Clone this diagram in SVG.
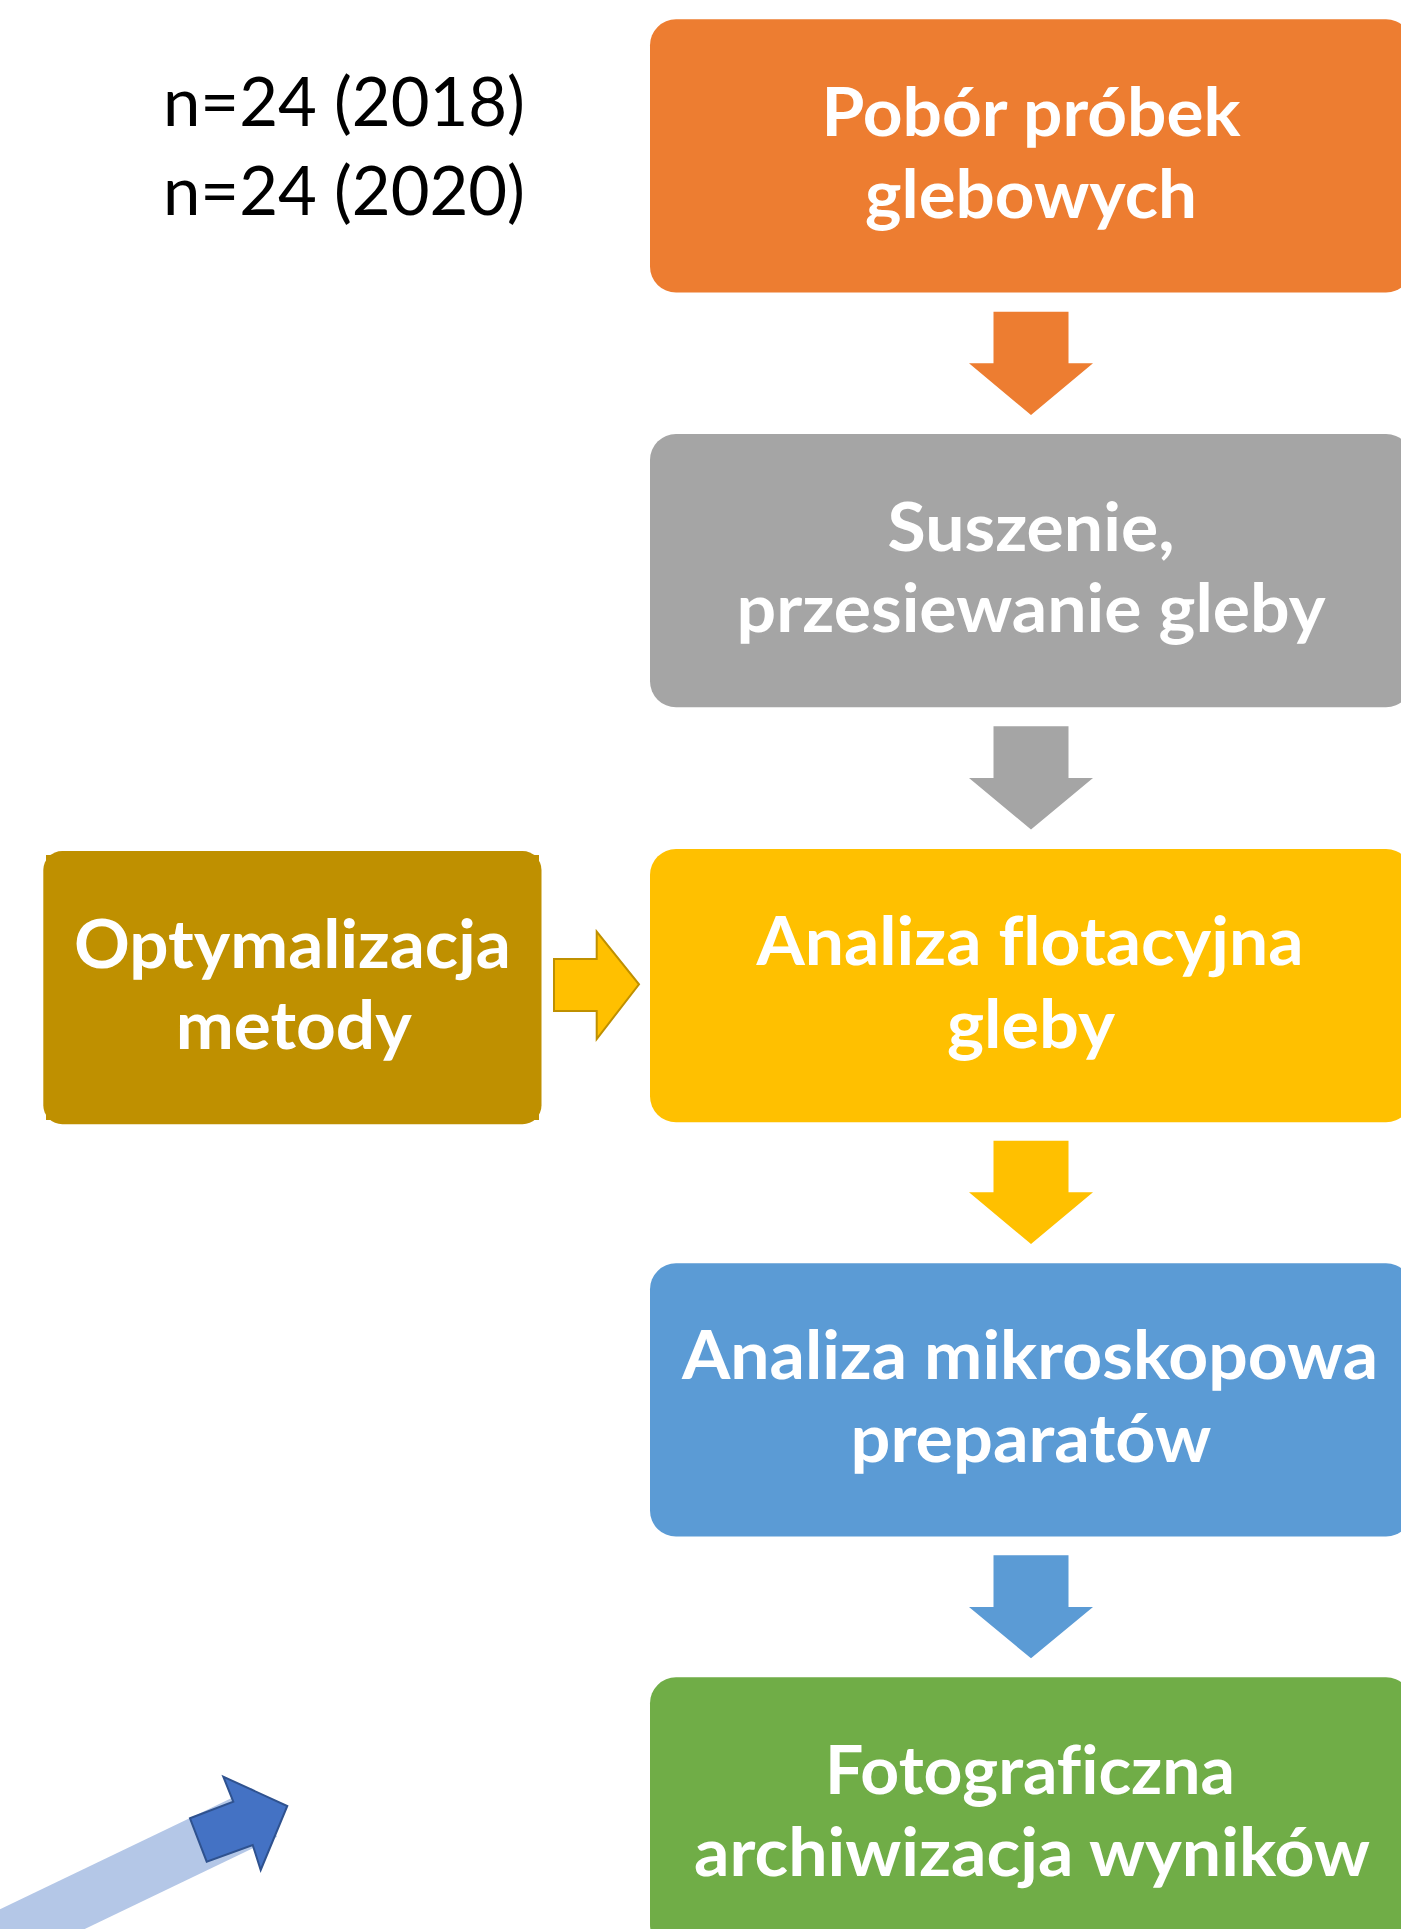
<svg xmlns="http://www.w3.org/2000/svg" width="1401" height="1929" viewBox="0 0 1401 1929">
<style>
.lbl{font-family:"Lato","Carlito","Liberation Sans",sans-serif;font-weight:bold;font-size:67px;fill:#FFFFFF;text-anchor:middle;font-variant-ligatures:none}
.note{font-family:"Lato","Carlito","Liberation Sans",sans-serif;font-size:68px;fill:#000000;text-anchor:middle}
</style>
<rect x="0" y="0" width="1401" height="1929" fill="#FFFFFF"/>
<g id="note">
<text class="note" x="344" y="125.7" textLength="362" lengthAdjust="spacingAndGlyphs">n=24 (2018)</text>
<text class="note" x="344" y="215" textLength="362" lengthAdjust="spacingAndGlyphs">n=24 (2020)</text>
</g>
<g id="node-pobor">
<rect x="650" y="19.3" width="762" height="273.3" rx="26" fill="#ED7D31"/>
<text class="lbl" x="1031" y="136" textLength="419" lengthAdjust="spacingAndGlyphs">Pobór próbek</text>
<text class="lbl" x="1031" y="218.3" textLength="332" lengthAdjust="spacingAndGlyphs">glebowych</text>
</g>
<g id="node-suszenie">
<rect x="650" y="434" width="762" height="273.3" rx="26" fill="#A5A5A5"/>
<text class="lbl" x="1031" y="550.7" textLength="287" lengthAdjust="spacingAndGlyphs">Suszenie,</text>
<text class="lbl" x="1031" y="632.3" textLength="589" lengthAdjust="spacingAndGlyphs">przesiewanie gleby</text>
</g>
<g id="node-flotacja">
<rect x="650" y="849" width="762" height="273.3" rx="26" fill="#FFC000"/>
<text class="lbl" x="1030" y="965" textLength="547" lengthAdjust="spacingAndGlyphs">Analiza flotacyjna</text>
<text class="lbl" x="1031" y="1047.7" textLength="168" lengthAdjust="spacingAndGlyphs">gleby</text>
</g>
<g id="node-mikroskop">
<rect x="650" y="1263.3" width="762" height="273.3" rx="26" fill="#5B9BD5"/>
<text class="lbl" x="1030" y="1379.3" textLength="696" lengthAdjust="spacingAndGlyphs">Analiza mikroskopowa</text>
<text class="lbl" x="1031" y="1461.7" textLength="361" lengthAdjust="spacingAndGlyphs">preparatów</text>
</g>
<g id="node-foto">
<rect x="650" y="1677.3" width="762" height="273.3" rx="26" fill="#70AD47"/>
<text class="lbl" x="1030" y="1794" textLength="410" lengthAdjust="spacingAndGlyphs">Fotograficzna</text>
<text class="lbl" x="1032" y="1876" textLength="676" lengthAdjust="spacingAndGlyphs">archiwizacja wyników</text>
</g>
<g id="node-optymalizacja">
<rect x="46" y="855" width="493" height="265" fill="#BF9000"/>
<rect x="43.3" y="851" width="498.2" height="273.3" rx="19" fill="#BF9000"/>
<text class="lbl" x="292.4" y="967.7" textLength="437" lengthAdjust="spacingAndGlyphs">Optymalizacja</text>
<text class="lbl" x="293.8" y="1048.7" textLength="236" lengthAdjust="spacingAndGlyphs">metody</text>
</g>
<g id="connectors">
<polygon points="993.5,311.7 1068.5,311.7 1068.5,363.3 1093,363.3 1031,415 969,363.3 993.5,363.3" fill="#ED7D31"/>
<polygon points="993.5,726.3 1068.5,726.3 1068.5,778 1093,778 1031,829.6 969,778 993.5,778" fill="#A5A5A5"/>
<polygon points="993.5,1140.7 1068.5,1140.7 1068.5,1192.3 1093,1192.3 1031,1244 969,1192.3 993.5,1192.3" fill="#FFC000"/>
<polygon points="993.5,1555.3 1068.5,1555.3 1068.5,1607 1093,1607 1031,1658.3 969,1607 993.5,1607" fill="#5B9BD5"/>
<polygon points="554,959 596.7,959 596.7,931.7 639,984.3 596.7,1039 596.7,1011 554,1011" fill="#FFC000" stroke="#BF9000" stroke-width="2" stroke-linejoin="miter"/>
<polygon points="-60,1938.1 252,1788.3 277,1836.7 -60,1998.5" fill="#B4C7E7"/>
<polygon points="190,1818.3 233.3,1801.7 223.3,1776.7 287.3,1806 260.7,1870 252.7,1845 206.7,1861.7" fill="#4472C4" stroke="#2F528F" stroke-width="2" stroke-linejoin="miter"/>
</g>
</svg>
